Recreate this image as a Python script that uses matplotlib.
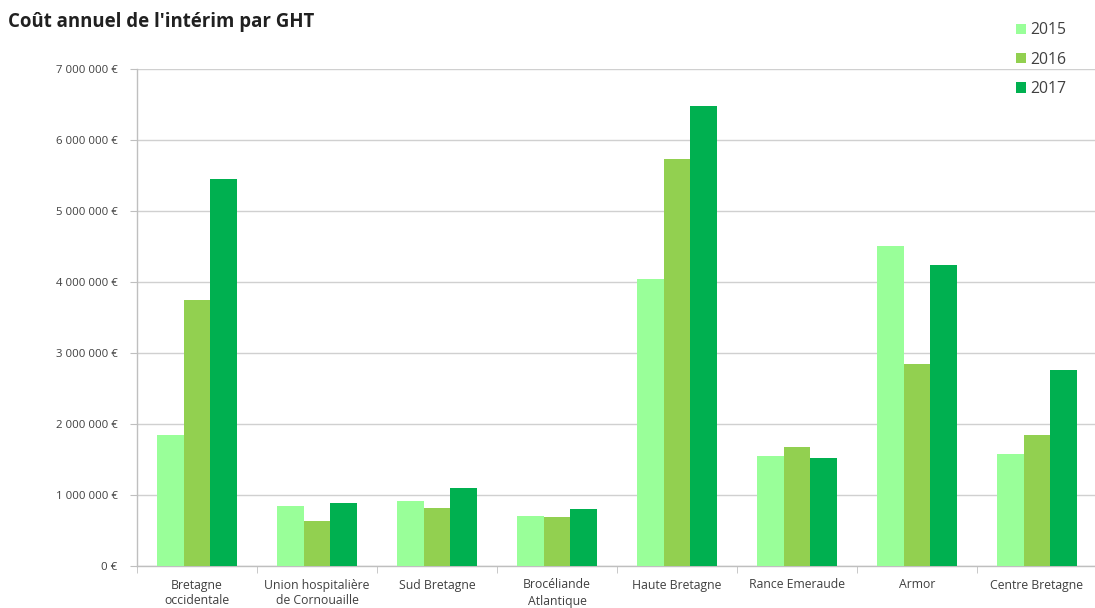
import matplotlib
matplotlib.use("Agg")
import matplotlib.pyplot as plt
import numpy as np
from matplotlib.ticker import FuncFormatter

categories = ["Bretagne\noccidentale", "Union hospitalière\nde Cornouaille", "Sud Bretagne",
              "Brocéliande\nAtlantique", "Haute Bretagne", "Rance Emeraude", "Armor", "Centre Bretagne"]
years = ["2015", "2016", "2017"]
v2015 = [1845000, 845000, 915000, 700000, 4040000, 1550000, 4510000, 1580000]
v2016 = [3750000, 630000, 820000, 690000, 5730000, 1680000, 2850000, 1850000]
v2017 = [5450000, 890000, 1100000, 800000, 6480000, 1520000, 4240000, 2760000]
series = [v2015, v2016, v2017]
colors = ["#99FF99", "#92D050", "#00B050"]

plt.rcParams['font.family'] = ['Open Sans', 'DejaVu Sans']

fig = plt.figure(figsize=(10.95, 6.08), dpi=100)
W, H = 1095, 608
ax = fig.add_axes([137 / W, 42 / H, (1097 - 137) / W, 497 / H])

x = np.arange(len(categories))
bw = 0.22
for i, (vals, c, y) in enumerate(zip(series, colors, years)):
    ax.bar(x + (i - 1) * bw, vals, width=bw, color=c, label=y, zorder=3)

ax.set_xlim(-0.5, len(categories) - 0.5)
ax.set_ylim(0, 7000000)
ax.set_yticks(np.arange(0, 7000001, 1000000))

def fmt(v, pos):
    s = f"{int(v):,}".replace(",", " ")
    return s + " €"
ax.yaxis.set_major_formatter(FuncFormatter(fmt))

ax.grid(axis='y', color='#D0D0D0', linewidth=1, zorder=0)
for s in ['top', 'right']:
    ax.spines[s].set_visible(False)
for s in ['left', 'bottom']:
    ax.spines[s].set_color('#BFBFBF')
    ax.spines[s].set_linewidth(1)

ax.set_xticks(x)
ax.set_xticklabels(categories, fontsize=8.8, color='#404040', linespacing=1.3)
ax.set_xticks(np.arange(-0.5, len(categories), 1), minor=True)
ax.tick_params(axis='x', which='major', length=0, pad=9)
ax.tick_params(axis='x', which='minor', length=5, color='#BFBFBF')
ax.tick_params(axis='y', length=5, color='#BFBFBF', labelsize=8.2, labelcolor='#404040', pad=9)

fig.text(8 / W, 1 - 22 / H, "Coût annuel de l'intérim par GHT", fontsize=13.4,
         fontweight='bold', color='#202020', va='center', ha='left')

leg = ax.legend(loc='upper left', bbox_to_anchor=(1010 / W, 1 - 16 / H), bbox_transform=fig.transFigure,
                frameon=False, fontsize=11.3, handlelength=0.62, handleheight=0.62,
                labelspacing=0.85, handletextpad=0.25, borderaxespad=0)
for t in leg.get_texts():
    t.set_color('#404040')

fig.savefig("out.png", dpi=100)
